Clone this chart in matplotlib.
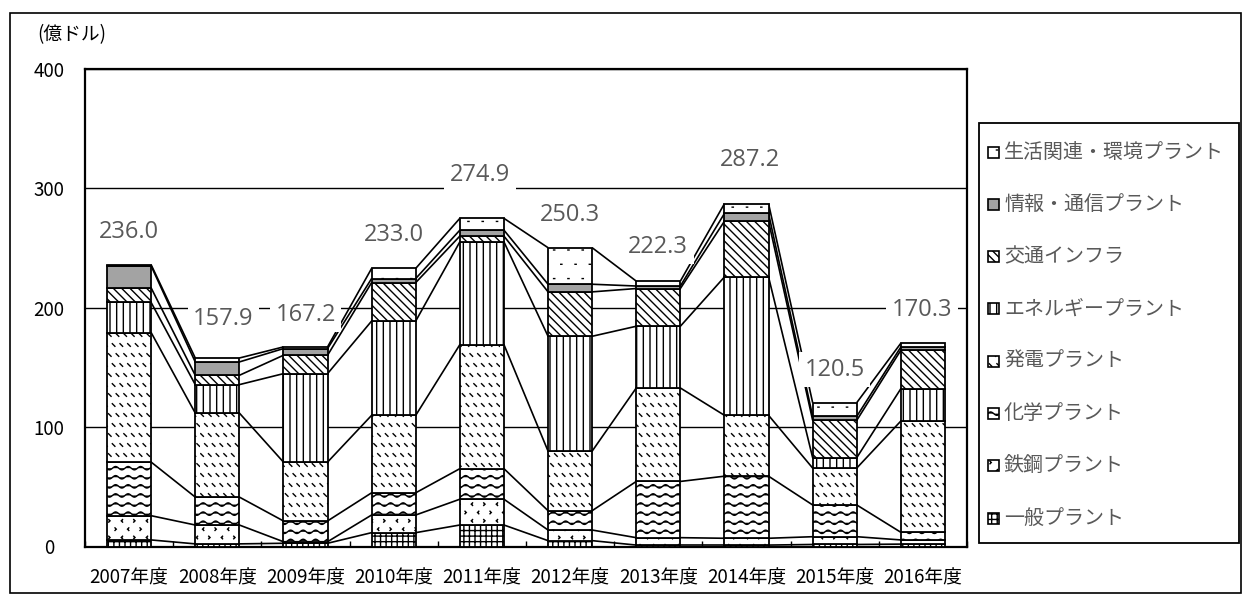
import warnings
warnings.filterwarnings('ignore')
import numpy as np
import matplotlib
matplotlib.use('Agg')
import matplotlib.pyplot as plt
from matplotlib import hatch as mhatch
from matplotlib.path import Path
from matplotlib.patches import Rectangle

# ---------------- data ----------------
years = ['2007年度', '2008年度', '2009年度', '2010年度', '2011年度',
         '2012年度', '2013年度', '2014年度', '2015年度', '2016年度']
categories = ['一般プラント', '鉄鋼プラント', '化学プラント', '発電プラント',
              'エネルギープラント', '交通インフラ', '情報・通信プラント',
              '生活関連・環境プラント']
general   = [5.5, 2.2, 2.7, 11.6, 18.0, 4.9, 1.2, 1.2, 1.7, 2.0]
steel     = [20.3, 15.8, 1.3, 14.8, 21.6, 8.9, 6.2, 5.7, 6.5, 3.5]
chemical  = [44.9, 23.4, 17.4, 18.6, 25.6, 16.2, 47.1, 52.0, 26.6, 6.4]
power     = [108.5, 70.4, 49.3, 64.9, 103.9, 49.9, 78.3, 51.0, 30.9, 93.2]
energy    = [25.2, 23.8, 74.1, 79.0, 86.1, 96.2, 51.7, 115.9, 8.7, 27.1]
transport = [12.2, 7.8, 15.4, 32.2, 4.8, 37.2, 31.6, 46.7, 31.3, 32.2]
ict       = [18.4, 11.2, 5.6, 3.4, 5.0, 6.4, 2.1, 6.5, 3.3, 2.7]
living    = [1.0, 3.3, 1.4, 8.5, 9.9, 30.6, 4.1, 8.2, 11.5, 3.2]
totals    = [236.0, 157.9, 167.2, 233.0, 274.9, 250.3, 222.3, 287.2, 120.5, 170.3]
yticks = [0, 100, 200, 300, 400]

# label placement (positions, not data)
label_x = [0.0, 1.07, 2.0, 3.0, 3.98, 5.0, 6.0, 7.04, 8.0, 8.99]
label_y = [263.7, 190.8, 194.1, 261.2, 311.5, 278.0, 251.2, 324.1, 148.0, 198.3]

# ---------------- custom hatch patterns ----------------
def _wave_segs():
    segs = []
    rows, periods, amp = 11, 8, 0.017
    xs = np.linspace(0, 1, periods * 12 + 1)
    for r in range(rows):
        y0 = (r + 0.5) / rows
        segs.append(np.column_stack([xs, y0 + amp * np.sin(2 * np.pi * periods * xs)]))
    return segs


def _dash_segs():
    segs = []
    rows, cols, w, h = 10, 13, 0.026, 0.026
    for r in range(rows):
        y0 = (r + 0.5) / rows
        off = 0.5 * (r % 2)
        for c in range(cols):
            x0 = (c + off + 0.1) / cols
            if x0 + w > 1:
                x0 -= 1
            segs.append(np.array([[x0, y0 + h / 2], [x0 + w, y0 - h / 2]]))
    return segs


def _confetti_segs():
    segs = []
    rows, cols, s = 12, 8, 0.013
    for r in range(rows):
        y0 = (r + 0.5) / rows
        for c in range(cols):
            x0 = (c + 0.5 * (r % 2) + 0.2) / cols
            if x0 + s > 1:
                x0 -= 1
            if (r + c) % 2 == 0:
                segs.append(np.array([[x0 + s, y0 + s], [x0, y0], [x0 + s, y0 - s]]))
            else:
                segs.append(np.array([[x0, y0 + s], [x0 + s, y0], [x0, y0 - s]]))
    return segs


def _vert_segs():
    n = 15
    return [np.array([[(i + 0.5) / n, 0.0], [(i + 0.5) / n, 1.0]]) for i in range(n)]


def _dot_segs(n, d):
    segs = []
    for r in range(n):
        y0 = (r + 0.5) / n
        for c in range(n):
            x0 = ((c + 0.5 * (r % 2) + 0.25) / n) % 1.0
            if x0 + d > 1:
                x0 -= 1
            segs.append(np.array([[x0, y0], [x0 + d, y0]]))
    return segs


class _CustomHatch(mhatch.HatchPatternBase):
    def __init__(self, hatch, density):
        segs = []
        if 'w' in hatch:
            segs += _wave_segs()
        if 'd' in hatch:
            segs += _dash_segs()
        if 'c' in hatch:
            segs += _confetti_segs()
        if 'v' in hatch:
            segs += _vert_segs()
        if 'p' in hatch:
            segs += _dot_segs(7, 0.012)
        self.segs = segs
        self.num_vertices = sum(len(s) for s in segs)

    def set_vertices_and_codes(self, vertices, codes):
        i = 0
        for s in self.segs:
            n = len(s)
            vertices[i:i + n] = s
            codes[i] = Path.MOVETO
            codes[i + 1:i + n] = Path.LINETO
            i += n


mhatch._hatch_types.append(_CustomHatch)

plt.rcParams['hatch.linewidth'] = 1.0
plt.rcParams['font.family'] = ['Noto Sans CJK JP', 'DejaVu Sans']

series = [general, steel, chemical, power, energy, transport, ict, living]
hatches = ['+++', 'c', 'w', 'd', 'v', '\\\\\\\\', None, 'p']
faces = ['white', 'white', 'white', 'white', 'white', 'white', '#a3a3a3', 'white']

W, H = 1244, 596
fig = plt.figure(figsize=(W / 100, H / 100), dpi=100)
ax = fig.add_axes([85 / W, 1 - 546.5 / H, 882 / W, 477.5 / H])

x = np.arange(len(years))
bw = 0.5
bottom = np.zeros(len(years))
tops = []
for vals, h, fc, name in zip(series, hatches, faces, categories):
    vals = np.asarray(vals, dtype=float)
    ax.bar(x, vals, bw, bottom=bottom, color=fc, edgecolor='black',
           linewidth=1.3, hatch=h, zorder=3, label=name)
    bottom = bottom + vals
    tops.append(bottom.copy())

# series lines
for t in tops:
    for i in range(len(years) - 1):
        ax.plot([x[i] + bw / 2, x[i + 1] - bw / 2], [t[i], t[i + 1]],
                color='black', lw=1.2, zorder=2, solid_capstyle='butt')

# total labels
for lx, ly, t in zip(label_x, label_y, totals):
    ax.text(lx, ly, f'{t:.1f}', ha='center', va='center', fontsize=17,
            color='#595959', family=['Open Sans', 'DejaVu Sans'],
            bbox=dict(facecolor='white', edgecolor='none', pad=4), zorder=10)

ax.set_xlim(-0.5, len(years) - 0.5)
ax.set_ylim(0, 400)
ax.set_yticks(yticks)
ax.set_yticklabels([str(v) for v in yticks])
ax.yaxis.grid(True, color='black', lw=1.0, zorder=1)
ax.set_axisbelow(True)
ax.tick_params(axis='y', length=0, pad=26, labelsize=13.5, labelcolor='black')
for lab in ax.get_yticklabels():
    lab.set_horizontalalignment('center')
ax.set_xticks(x)
ax.set_xticklabels(years)
ax.tick_params(axis='x', which='major', length=0, pad=15, labelsize=13.5)
ax.set_xticks(np.arange(len(years) + 1) - 0.5, minor=True)
ax.tick_params(axis='x', which='minor', direction='in', length=4.5, width=1.0)
for sp in ax.spines.values():
    sp.set_linewidth(1.6)
    sp.set_color('black')

fig.text(37 / W, 1 - 35 / H, '(億ドル)', ha='left', va='center', fontsize=13.5)

# legend (manual, top entry = top series)
fig.add_artist(Rectangle((979 / W, 1 - 543 / H), 260 / W, 420 / H,
                         transform=fig.transFigure, facecolor='white',
                         edgecolor='black', lw=1.3))
for k in range(len(categories)):
    idx = len(categories) - 1 - k
    cy = 152 + 52.3 * k
    fig.add_artist(Rectangle((988 / W, 1 - (cy + 5.5) / H), 11 / W, 11 / H,
                             transform=fig.transFigure, facecolor=faces[idx],
                             edgecolor='black', lw=1.2, hatch=hatches[idx]))
    fig.text(1004 / W, 1 - cy / H, categories[idx], ha='left', va='center',
             fontsize=14.4, color='#595959')

# outer border
fig.add_artist(Rectangle((10 / W, 1 - 593 / H), 1231 / W, 580 / H,
                         transform=fig.transFigure, facecolor='none',
                         edgecolor='black', lw=1.2))

fig.savefig('out.png', dpi=100)
